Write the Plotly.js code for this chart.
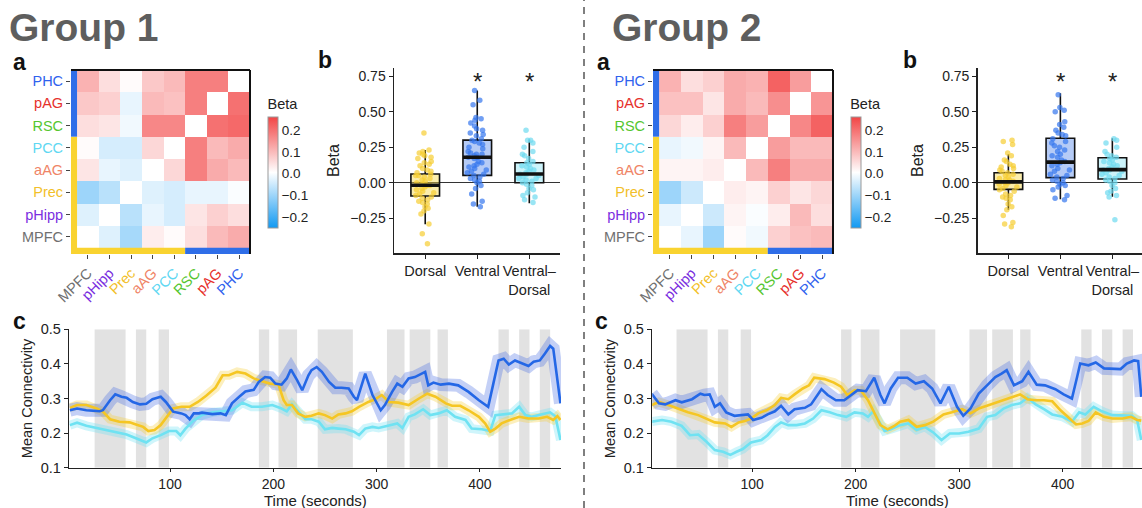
<!DOCTYPE html>
<html><head><meta charset="utf-8">
<script src="https://cdn.plot.ly/plotly-3.0.1.min.js"></script>
<style>html,body{margin:0;padding:0;background:#fff}#g{width:1142px;height:508px}</style>
</head><body><div id="g"></div>
<script>
// ---------- DATA ----------
const regions = ['MPFC','pHipp','Prec','aAG','PCC','RSC','pAG','PHC'];
const regionColors = ['#707070','#7a2ee0','#f2bf2a','#ef8466','#5fd8f2','#55c630','#e6302c','#2f62ee'];
// rows = regions (bottom -> top), columns = regions
const z1 = [
  [null,-0.03,-0.09,0.03,0.01,0.05,0.10,0.12],
  [-0.03,null,-0.07,-0.02,-0.04,0.04,0.07,0.05],
  [-0.10,-0.07,null,-0.03,-0.04,-0.02,-0.02,0.00],
  [0.04,-0.02,-0.03,null,0.06,0.18,0.12,0.10],
  [0.01,-0.04,-0.04,0.06,null,0.18,0.10,0.12],
  [0.05,0.04,-0.01,0.17,0.17,null,0.20,0.21],
  [0.08,0.07,-0.02,0.10,0.09,0.18,null,0.20],
  [0.11,0.05,0.01,0.08,0.10,0.18,0.18,null]
];
const z2 = [
  [null,-0.02,-0.10,0.01,-0.01,0.07,0.09,0.10],
  [-0.02,null,-0.05,0.02,0.00,0.03,0.10,0.05],
  [-0.10,-0.05,null,0.03,0.02,0.07,0.04,0.06],
  [0.02,0.02,0.03,null,0.10,0.18,0.12,0.12],
  [-0.02,-0.01,0.02,0.10,null,0.14,0.10,0.10],
  [0.06,0.03,0.07,0.18,0.14,null,0.17,0.22],
  [0.09,0.09,0.04,0.12,0.10,0.16,null,0.15],
  [0.11,0.05,0.07,0.12,0.11,0.22,0.14,null]
];

const boxCats = ['Dorsal','Ventral','Ventral–<br>Dorsal'];
// group 1 box stats [Dorsal, Ventral, Ventral-Dorsal]
const g1q1 = [-0.094, 0.052, 0.0];
const g1med = [-0.018, 0.179, 0.061];
const g1q3 = [0.061, 0.30, 0.141];
const g1lo = [-0.293, -0.169, -0.145];
const g1hi = [0.23, 0.65, 0.305];
const g2q1 = [-0.047, 0.036, 0.026];
const g2med = [0.006, 0.145, 0.092];
const g2q3 = [0.07, 0.313, 0.176];
const g2lo = [-0.19, -0.117, -0.098];
const g2hi = [0.2, 0.63, 0.313];

const g1Dorsal = [0.35,0.23,0.22,0.21,0.20,0.19,0.18,0.17,0.15,0.14,0.13,0.12,0.10,0.09,0.08,0.07,0.06,0.05,0.05,0.04,0.03,0.02,0.01,0.0,-0.01,-0.02,-0.02,-0.03,-0.04,-0.05,-0.06,-0.07,-0.08,-0.09,-0.10,-0.11,-0.12,-0.13,-0.14,-0.15,-0.17,-0.18,-0.20,-0.22,-0.29,-0.36,-0.43];
const g1Ventral = [0.65,0.58,0.55,0.46,0.45,0.44,0.42,0.40,0.38,0.37,0.35,0.34,0.33,0.31,0.30,0.29,0.28,0.27,0.25,0.24,0.22,0.21,0.20,0.20,0.19,0.18,0.18,0.17,0.15,0.14,0.13,0.12,0.11,0.10,0.09,0.08,0.07,0.06,0.05,0.04,0.03,0.02,0.01,0.0,-0.02,-0.04,-0.08,-0.13,-0.15,-0.17];
const g1VD = [0.37,0.30,0.30,0.28,0.25,0.22,0.20,0.19,0.17,0.15,0.14,0.13,0.12,0.11,0.10,0.09,0.08,0.07,0.06,0.06,0.05,0.04,0.03,0.03,0.02,0.01,0.0,-0.01,-0.02,-0.04,-0.05,-0.07,-0.09,-0.10,-0.12,-0.14];
const g2Dorsal = [0.30,0.29,0.27,0.21,0.19,0.16,0.15,0.13,0.12,0.11,0.10,0.09,0.08,0.07,0.06,0.05,0.04,0.03,0.02,0.02,0.01,0.0,0.0,-0.01,-0.02,-0.03,-0.04,-0.05,-0.06,-0.08,-0.09,-0.10,-0.11,-0.12,-0.15,-0.17,-0.19,-0.23,-0.28,-0.29,-0.31];
const g2Ventral = [0.62,0.53,0.51,0.50,0.43,0.41,0.39,0.37,0.35,0.34,0.33,0.31,0.29,0.28,0.26,0.25,0.23,0.22,0.20,0.19,0.18,0.16,0.15,0.14,0.13,0.12,0.10,0.09,0.08,0.06,0.05,0.04,0.03,0.02,0.01,0.0,-0.01,-0.02,-0.03,-0.05,-0.09,-0.11,-0.12];
const g2VD = [0.31,0.30,0.28,0.25,0.22,0.20,0.19,0.18,0.17,0.16,0.15,0.14,0.13,0.12,0.11,0.10,0.09,0.09,0.08,0.07,0.06,0.05,0.04,0.03,0.02,0.01,0.0,-0.02,-0.04,-0.06,-0.07,-0.09,-0.10,-0.26];

const bandStart = [27,67,89,186,205,243,310,332,359,418,438,458];
const bandEnd   = [57,77,99,196,223,277,327,352,369,428,448,468];

// Group 1 time series
const tB1 = [3,10,19,32,35,42,47,53,58,64,71,77,83,91,96,103,111,115,119,123,128,131,141,149,154,160,167,173,181,186,192,197,202,208,213,217,223,228,234,237,242,247,254,260,266,273,278,281,289,296,304,308,315,320,325,331,337,344,347,350,355,362,370,379,389,399,408,413,418,423,428,434,441,447,452,458,463,468,471,475,478];
const vB1 = [0.266,0.271,0.266,0.263,0.266,0.295,0.312,0.305,0.302,0.29,0.283,0.285,0.298,0.305,0.29,0.262,0.257,0.252,0.24,0.257,0.257,0.259,0.255,0.257,0.252,0.286,0.305,0.32,0.325,0.348,0.362,0.36,0.343,0.34,0.358,0.384,0.353,0.324,0.367,0.382,0.391,0.377,0.348,0.331,0.331,0.329,0.305,0.295,0.372,0.31,0.266,0.281,0.319,0.343,0.334,0.358,0.362,0.372,0.377,0.338,0.346,0.34,0.343,0.338,0.319,0.295,0.276,0.343,0.41,0.415,0.398,0.41,0.401,0.394,0.406,0.41,0.43,0.452,0.444,0.358,0.286];
const tY1 = [3,10,19,29,35,42,51,61,67,74,79,85,91,96,103,111,119,127,135,144,151,157,165,173,181,189,197,205,210,213,218,224,231,237,244,250,257,263,270,276,283,292,299,305,312,321,331,341,349,357,367,373,381,389,399,405,410,415,421,429,438,447,457,465,471,475,478];
const vY1 = [0.273,0.281,0.281,0.271,0.262,0.24,0.233,0.231,0.225,0.218,0.206,0.209,0.223,0.242,0.271,0.276,0.276,0.29,0.308,0.331,0.367,0.367,0.377,0.372,0.358,0.35,0.343,0.34,0.295,0.281,0.281,0.257,0.247,0.25,0.257,0.252,0.242,0.254,0.257,0.263,0.276,0.29,0.298,0.31,0.29,0.288,0.281,0.3,0.314,0.305,0.286,0.279,0.279,0.266,0.247,0.228,0.204,0.213,0.228,0.238,0.247,0.242,0.242,0.247,0.238,0.249,0.238];
const tC1 = [3,10,19,29,38,48,58,67,77,83,91,99,106,110,115,123,131,141,151,160,170,179,189,199,208,213,218,224,231,237,244,250,257,263,270,278,283,289,296,302,312,320,325,331,337,345,352,360,368,376,386,392,402,410,415,423,431,438,444,450,460,468,473,478];
const vC1 = [0.223,0.23,0.221,0.215,0.209,0.204,0.196,0.185,0.173,0.185,0.194,0.206,0.206,0.194,0.213,0.237,0.252,0.26,0.263,0.266,0.288,0.276,0.276,0.281,0.271,0.263,0.283,0.262,0.24,0.24,0.233,0.211,0.215,0.213,0.211,0.204,0.194,0.213,0.218,0.215,0.223,0.228,0.215,0.247,0.254,0.269,0.252,0.257,0.266,0.247,0.238,0.213,0.211,0.206,0.252,0.254,0.257,0.276,0.252,0.247,0.254,0.26,0.249,0.18];

// Group 2 time series
const tB2 = [3,10,16,26,32,42,50,54,59,64,69,75,83,90,96,101,109,115,122,128,135,141,151,157,167,173,181,189,196,202,210,218,224,228,234,241,250,258,266,274,282,290,298,304,311,319,327,335,341,346,353,361,367,375,383,393,401,409,414,417,425,432,440,448,456,462,469,473,476];
const vB2 = [0.314,0.286,0.283,0.295,0.289,0.298,0.314,0.31,0.312,0.276,0.286,0.26,0.25,0.252,0.254,0.238,0.244,0.254,0.263,0.279,0.254,0.269,0.273,0.283,0.327,0.31,0.295,0.295,0.31,0.324,0.321,0.36,0.31,0.286,0.329,0.36,0.36,0.343,0.35,0.329,0.286,0.334,0.276,0.25,0.271,0.314,0.338,0.362,0.372,0.382,0.338,0.35,0.377,0.34,0.338,0.327,0.312,0.3,0.362,0.401,0.396,0.404,0.387,0.385,0.385,0.401,0.41,0.408,0.305];
const tY2 = [3,10,19,29,38,48,58,64,74,80,87,93,99,106,114,122,128,135,141,149,155,160,170,179,186,192,199,205,212,218,224,231,237,243,251,259,267,275,285,293,303,311,319,329,338,346,353,359,366,374,382,390,398,406,413,419,425,432,440,448,458,466,472,476];
const vY2 = [0.281,0.29,0.281,0.269,0.26,0.252,0.24,0.231,0.228,0.218,0.231,0.235,0.242,0.257,0.266,0.281,0.302,0.298,0.312,0.329,0.338,0.36,0.356,0.346,0.334,0.31,0.324,0.324,0.295,0.26,0.223,0.211,0.22,0.233,0.238,0.218,0.223,0.233,0.254,0.26,0.269,0.257,0.271,0.281,0.29,0.298,0.305,0.312,0.298,0.295,0.295,0.292,0.266,0.244,0.225,0.228,0.235,0.26,0.247,0.242,0.242,0.247,0.238,0.236];
const tC2 = [3,13,22,32,40,48,56,64,72,79,85,91,99,109,115,122,128,135,143,151,159,167,175,183,191,199,207,212,217,223,228,234,243,251,259,267,275,283,291,300,309,319,327,335,343,351,359,366,374,382,390,400,409,416,422,430,438,448,458,467,472,476];
const vC2 = [0.233,0.238,0.233,0.221,0.194,0.196,0.175,0.151,0.146,0.137,0.146,0.154,0.173,0.18,0.194,0.218,0.231,0.223,0.223,0.228,0.242,0.266,0.26,0.252,0.247,0.26,0.257,0.247,0.263,0.233,0.206,0.211,0.223,0.228,0.209,0.218,0.202,0.18,0.199,0.199,0.204,0.213,0.247,0.252,0.271,0.281,0.286,0.302,0.283,0.269,0.254,0.247,0.233,0.26,0.254,0.276,0.263,0.252,0.25,0.25,0.238,0.18];

// ---------- STYLE / LAYOUT ----------
const W = 1142, H = 508;
const px = v => v / W;
const py = v => (H - v) / H;
const FONT = 'Liberation Sans, Arial, Helvetica, sans-serif';
const INK = '#222';
const BLUE = '#2467e6', YEL = '#f5c623', CYAN = '#6fe2f2';
const colorscale = [[0,'#1199f2'],[0.5,'#ffffff'],[1,'#f24545']];
const tickTexts = regions.map((r,i)=>`<span style="color:${regionColors[i]}">${r}</span>`);
const boxFill = ['rgba(247,214,70,0.45)','rgba(60,118,232,0.38)','rgba(110,220,240,0.35)'];
const ptColor = ['rgba(246,205,50,0.7)','rgba(52,118,238,0.7)','rgba(110,218,240,0.7)'];

const traces = [];
const layout = {
  width: W, height: H, margin: {l:0,r:0,t:0,b:0},
  paper_bgcolor: '#fff', plot_bgcolor: 'rgba(0,0,0,0)',
  showlegend: false, boxmode: 'overlay',
  font: {family: FONT, color: INK, size: 13},
  shapes: [], annotations: []
};

function heatAxes(n, xd, cbx, z) {
  const xa = 'xaxis' + (n===1?'':n), ya = 'yaxis' + (n===1?'':n);
  const xr = 'x' + (n===1?'':n), yr = 'y' + (n===1?'':n);
  layout[xa] = {domain: xd, range: [-0.78, 7.5], tickvals: [0,1,2,3,4,5,6,7], ticktext: tickTexts,
    tickangle: -45, ticks: 'outside', ticklen: 4, tickcolor: '#444', showline: false, showgrid: false, zeroline: false,
    tickfont: {size: 14.5}, anchor: yr, fixedrange: true};
  layout[ya] = {domain: [py(254), py(70)], range: [-0.78, 7.5], tickvals: [0,1,2,3,4,5,6,7], ticktext: tickTexts,
    ticks: 'outside', ticklen: 4, tickcolor: '#444', showline: false, showgrid: false, zeroline: false,
    tickfont: {size: 14.5}, anchor: xr, fixedrange: true};
  traces.push({type: 'heatmap', x: [0,1,2,3,4,5,6,7], y: [0,1,2,3,4,5,6,7], z: z, xaxis: xr, yaxis: yr,
    colorscale: colorscale, zmin: -0.25, zmax: 0.26, hoverongaps: false,
    colorbar: {x: px(cbx), xanchor: 'left', y: py(162), yanchor: 'middle', len: 132, lenmode: 'pixels',
      thickness: 10, xpad: 0, ypad: 0, outlinecolor: '#999', outlinewidth: 1,
      tickvals: [-0.2,-0.1,0,0.1,0.2], tickformat: '.1f', ticks: '', tickfont: {size: 13.5, color: INK},
      title: {text: 'Beta', side: 'top', font: {size: 14.5, color: INK}}}});
  // group strips
  const strips = [
    [-0.78,-0.5,-0.78,4.5,'#f9d330'], [-0.78,-0.5,4.5,7.5,'#2f6ee8'],
    [-0.78,4.5,-0.78,-0.5,'#f9d330'], [4.5,7.5,-0.78,-0.5,'#2f6ee8']
  ];
  strips.forEach(s => layout.shapes.push({type:'rect', xref: xr, yref: yr, x0:s[0], x1:s[1], y0:s[2], y1:s[3],
    fillcolor: s[4], line: {width: 0}, layer: 'above'}));
  layout.shapes.push({type:'line', xref: xr+' domain', yref: yr+' domain', x0:0, x1:1, y0:1, y1:1, line:{color:'#111', width:2}});
  layout.shapes.push({type:'line', xref: xr+' domain', yref: yr+' domain', x0:1, x1:1, y0:0, y1:1, line:{color:'#111', width:2}});
}

function boxAxes(n, xd, xrange, stats, pts) {
  const xa = 'xaxis' + n, ya = 'yaxis' + n, xr = 'x' + n, yr = 'y' + n;
  layout[xa] = {domain: xd, type: 'category', categoryorder: 'array', categoryarray: boxCats, range: xrange,
    showline: true, linecolor: INK, linewidth: 1.5, ticks: 'outside', ticklen: 4, tickcolor: INK,
    tickfont: {size: 14.5}, showgrid: false, zeroline: false, anchor: yr, fixedrange: true};
  layout[ya] = {domain: [py(253), py(68)], range: [-0.495, 0.808], tickvals: [-0.25,0,0.25,0.5,0.75], tickformat: '.2f',
    showline: true, linecolor: INK, linewidth: 1.5, ticks: 'outside', ticklen: 4, tickcolor: INK,
    tickfont: {size: 14}, showgrid: false, zeroline: true, zerolinecolor: '#333', zerolinewidth: 1.5,
    title: {text: 'Beta', font: {size: 16}, standoff: 6}, anchor: xr, fixedrange: true};
  boxCats.forEach((c, i) => {
    traces.push({type: 'box', xaxis: xr, yaxis: yr, x: [c], q1: [stats.q1[i]], median: [stats.med[i]], q3: [stats.q3[i]],
      lowerfence: [stats.lo[i]], upperfence: [stats.hi[i]], boxpoints: false, width: 0.55,
      fillcolor: boxFill[i], line: {color: '#111', width: 1.6}, whiskerwidth: 0, hoverinfo: 'skip'});
    traces.push({type: 'box', xaxis: xr, yaxis: yr, x: pts[i].map(() => c), y: pts[i], boxpoints: 'all', jitter: 0.75, pointpos: 0,
      width: 0.55, fillcolor: 'rgba(0,0,0,0)', line: {color: 'rgba(0,0,0,0)', width: 0},
      marker: {color: ptColor[i], size: 5.5, line: {width: 0}}, hoverinfo: 'skip'});
    traces.push({type: 'box', xaxis: xr, yaxis: yr, x: [c], q1: [stats.med[i]], median: [stats.med[i]], q3: [stats.med[i]],
      lowerfence: [stats.med[i]], upperfence: [stats.med[i]], boxpoints: false, width: 0.55,
      fillcolor: 'rgba(0,0,0,0)', line: {color: '#111', width: 3.6}, whiskerwidth: 0, hoverinfo: 'skip'});
  });
  [1, 2].forEach(i => layout.annotations.push({xref: xr, yref: yr, x: i, y: 0.715, text: '*', showarrow: false,
    font: {size: 24, color: INK}, yanchor: 'middle'}));
}

function timeAxes(n, xd, xrange, series) {
  const xa = 'xaxis' + n, ya = 'yaxis' + n, xr = 'x' + n, yr = 'y' + n;
  layout[xa] = {domain: xd, range: xrange, tickvals: [100,200,300,400], showline: true, linecolor: INK, linewidth: 1.5,
    ticks: 'outside', ticklen: 3, tickcolor: INK, tickfont: {size: 14}, showgrid: false, zeroline: false,
    anchor: yr, fixedrange: true};
  layout[ya] = {domain: [py(467.7), py(329.3)], range: [0.1, 0.5], tickvals: [0.1,0.2,0.3,0.4,0.5], tickformat: '.1f',
    showline: true, linecolor: INK, linewidth: 1.5, ticks: 'outside', ticklen: 4, tickcolor: INK, tickfont: {size: 14.5},
    showgrid: false, zeroline: false, title: {text: 'Mean Connectivity', font: {size: 14.5}, standoff: 4}, anchor: xr, fixedrange: true};
  // x-axis title as centred text under the axis
  layout.annotations.push({xref: xr + ' domain', yref: 'paper', x: 0.5, y: py(500.5), xanchor: 'center', yanchor: 'middle',
    text: 'Time (seconds)', showarrow: false, font: {size: 15, color: INK}, borderpad: 0});
  bandStart.forEach((b, i) => layout.shapes.push({type: 'rect', xref: xr, yref: yr, x0: b, x1: bandEnd[i], y0: 0.1, y1: 0.5,
    fillcolor: '#e2e2e2', line: {width: 0}, layer: 'below'}));
  const cols = [CYAN, YEL, BLUE];
  const ribbons = ['rgba(110,226,242,0.33)','rgba(246,206,50,0.32)','rgba(60,100,225,0.30)'];
  const rw = [9, 9, 13];
  series.forEach((s, i) => traces.push({type: 'scatter', mode: 'lines', xaxis: xr, yaxis: yr, x: s[0], y: s[1],
    line: {color: ribbons[i], width: rw[i]}, hoverinfo: 'skip'}));
  series.forEach((s, i) => traces.push({type: 'scatter', mode: 'lines', xaxis: xr, yaxis: yr, x: s[0], y: s[1],
    line: {color: cols[i], width: 2.6}, hoverinfo: 'skip'}));
}

heatAxes(1, [px(71), px(250)], 268, z1);
boxAxes(2, [px(394), px(560)], [-0.6, 2.59],
  {q1: g1q1, med: g1med, q3: g1q3, lo: g1lo, hi: g1hi}, [g1Dorsal, g1Ventral, g1VD]);
timeAxes(3, [px(69.3), px(561)], [2.5, 478.5], [[tC1, vC1], [tY1, vY1], [tB1, vB1]]);
heatAxes(4, [px(653), px(833)], 850.7, z2);
boxAxes(5, [px(977.7), 1], [-0.59, 2.57],
  {q1: g2q1, med: g2med, q3: g2q3, lo: g2lo, hi: g2hi}, [g2Dorsal, g2Ventral, g2VD]);
timeAxes(6, [px(652.3), 1], [3.6, 476.7], [[tC2, vC2], [tY2, vY2], [tB2, vB2]]);

// panel labels
const lab = (t, x, y, s, c) => layout.annotations.push({xref: 'paper', yref: 'paper', x: px(x), y: py(y), xanchor: 'left', yanchor: 'middle',
  text: '<b>' + t + '</b>', showarrow: false, font: {size: s, color: c || '#111'}});
lab('Group 1', 7, 27, 39, '#5e5e5e');
lab('Group 2', 610, 27, 39, '#5e5e5e');
lab('a', 11, 62, 23); lab('b', 316, 60, 23); lab('c', 11, 321, 23);
lab('a', 595, 62, 23); lab('b', 901, 60, 23); lab('c', 593, 321, 23);
layout.shapes.push({type: 'line', xref: 'paper', yref: 'paper', x0: px(584), x1: px(584), y0: 0, y1: 1,
  line: {color: '#555', width: 1.5, dash: '7px,6px'}});

Plotly.newPlot('g', traces, layout, {staticPlot: true, displayModeBar: false});
</script></body></html>
